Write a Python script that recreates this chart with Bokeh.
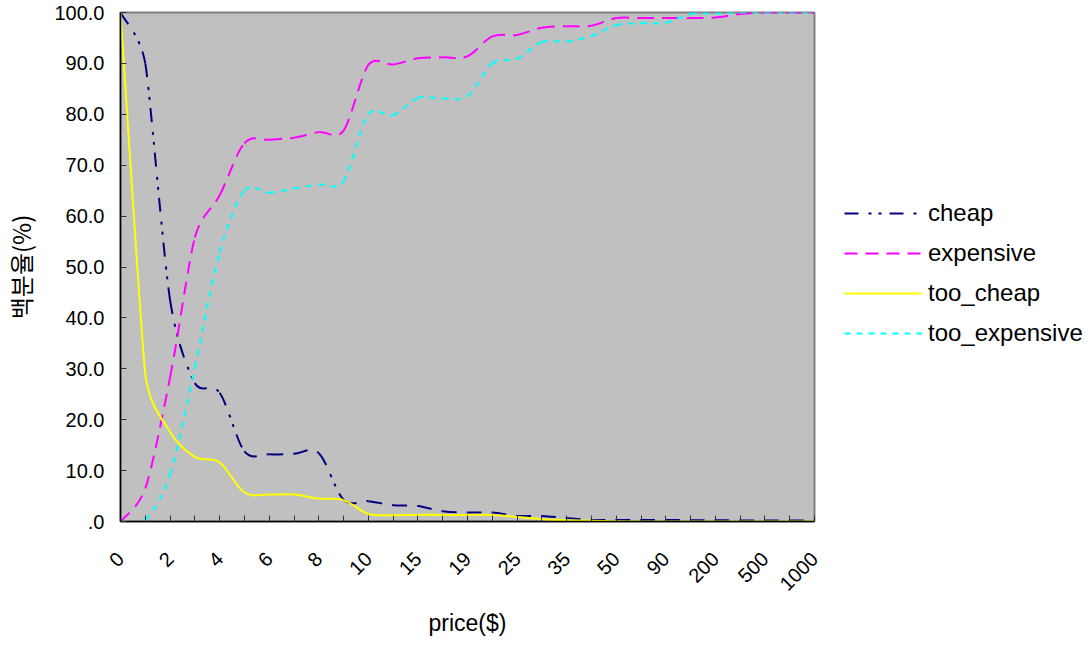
import math
from bokeh.plotting import figure
from bokeh.models import FixedTicker, Legend, LegendItem, ColumnDataSource, Range1d
from bokeh.embed import file_html
from bokeh.resources import INLINE

# categories (price points); only every other one is labelled on the axis
price_points = ["0", "1", "2", "3", "4", "5", "6", "7", "8", "9", "10", "12", "15", "17",
                "19", "20", "25", "30", "35", "40", "50", "70", "90", "100", "200", "300",
                "500", "700", "1000"]

cheap = [100, 90, 43.5, 27.2, 25.3, 13.8, 13.2, 13.3, 13.4, 4.3, 4.0, 3.2, 3.05, 2.0, 1.75,
         1.75, 1.1, 1.1, 0.65, 0.3, 0.3, 0.3, 0.3, 0.25, 0.25, 0.2, 0.2, 0.2, 0.2]
expensive = [0, 6.5, 28.3, 55.8, 64.1, 74.3, 75.0, 75.4, 76.5, 76.8, 89.7, 89.8, 91.0, 91.2,
             91.4, 95.3, 95.6, 97.0, 97.3, 97.4, 98.9, 98.9, 98.9, 98.9, 99.0, 99.7, 100, 100, 100]
too_cheap = [100, 29, 17.6, 12.7, 11.6, 5.7, 5.3, 5.3, 4.5, 4.2, 1.5, 1.25, 1.3, 1.3, 1.3,
             1.3, 0.9, 0.45, 0.25, 0.13, 0.05, 0, 0, 0, 0, 0, 0, 0, 0]
too_expensive = [0, 0.4, 9.3, 30.3, 52.8, 65.0, 64.6, 65.4, 66.2, 66.8, 80.0, 79.8, 83.2, 83.1,
                 83.6, 90.0, 90.9, 94.2, 94.3, 95.4, 97.5, 97.9, 98.0, 99.7, 99.8, 100, 100, 100, 100]

series_names = ["cheap", "expensive", "too_cheap", "too_expensive"]
series_colors = ["#000080", "#FF00FF", "#FFFF00", "#00FFFF"]
series_dashes = ["14 10 3 7 3 8", "13 8", "solid", "6 6"]

y_ticks = [0, 10, 20, 30, 40, 50, 60, 70, 80, 90, 100]
y_tick_labels = [".0", "10.0", "20.0", "30.0", "40.0", "50.0", "60.0", "70.0", "80.0", "90.0", "100.0"]

n = len(price_points)
xs = list(range(n))

FRAME_W, FRAME_H = 694, 509
SX = FRAME_W / (n - 1)   # px per category (used only for the smoothing shape)
SY = FRAME_H / 100.0     # px per percent


def smooth_source(vals):
    # Bezier segments between consecutive data points (spreadsheet-style smoothed line)
    pts = [(xs[i] * SX, vals[i] * SY) for i in range(n)]

    def dist(a, b):
        return math.hypot(a[0] - b[0], a[1] - b[1])

    fwd, bwd = [], []
    for i in range(n):
        pm = pts[max(i - 1, 0)]
        pp = pts[min(i + 1, n - 1)]
        pc = pts[i]
        tx, ty = pp[0] - pm[0], pp[1] - pm[1]
        d02 = math.hypot(tx, ty)
        f = 1.0 / 6.0
        if d02 > 0:
            if i > 0:
                f = min(f, dist(pm, pc) / (2 * d02))
            if i < n - 1:
                f = min(f, dist(pc, pp) / (2 * d02))
        fwd.append((pc[0] + f * tx, pc[1] + f * ty))
        bwd.append((pc[0] - f * tx, pc[1] - f * ty))
    d = {k: [] for k in ["x0", "y0", "x1", "y1", "cx0", "cy0", "cx1", "cy1"]}
    for i in range(n - 1):
        d["x0"].append(xs[i]); d["y0"].append(vals[i])
        d["x1"].append(xs[i + 1]); d["y1"].append(vals[i + 1])
        d["cx0"].append(fwd[i][0] / SX); d["cy0"].append(fwd[i][1] / SY)
        d["cx1"].append(bwd[i + 1][0] / SX); d["cy1"].append(bwd[i + 1][1] / SY)
    return ColumnDataSource(d)


p = figure(frame_width=FRAME_W, frame_height=FRAME_H,
           x_range=Range1d(0, n - 1), y_range=Range1d(0, 100),
           output_backend="svg", toolbar_location=None,
           min_border_left=110, min_border_top=12, min_border_right=272, min_border_bottom=108,
           background_fill_color="#C0C0C0", border_fill_color="white")
p.outline_line_color = "#808080"
p.outline_line_width = 2
p.xgrid.visible = False
p.ygrid.visible = False

FONT = "Liberation Sans"

ax = p.xaxis[0]
ax.ticker = FixedTicker(ticks=xs)
ax.major_label_overrides = {i: (price_points[i] if i % 2 == 0 else "") for i in xs}
ax.major_label_orientation = math.pi / 4
ax.major_tick_in = 6
ax.major_tick_out = 0
ax.minor_tick_in = 0
ax.minor_tick_out = 0
ax.major_label_standoff = 34
ax.major_label_text_font = FONT
ax.major_label_text_font_size = "20px"
ax.major_label_text_color = "black"
ax.axis_line_color = "black"
ax.axis_line_width = 1.5
ax.major_tick_line_color = "#333333"
ax.axis_label = "price($)"
ax.axis_label_text_font = FONT
ax.axis_label_text_font_size = "23px"
ax.axis_label_text_font_style = "normal"
ax.axis_label_text_color = "black"
ax.axis_label_standoff = 10

ay = p.yaxis[0]
ay.ticker = FixedTicker(ticks=y_ticks)
ay.major_label_overrides = dict(zip(y_ticks, y_tick_labels))
ay.major_tick_in = 6
ay.major_tick_out = 0
ay.minor_tick_in = 0
ay.minor_tick_out = 0
ay.major_label_standoff = 16
ay.major_label_text_font = FONT
ay.major_label_text_font_size = "20px"
ay.major_label_text_color = "black"
ay.axis_line_color = "black"
ay.axis_line_width = 1.5
ay.major_tick_line_color = "#333333"
ay.axis_label = "백분율(%)"
ay.axis_label_text_font = "Noto Sans CJK KR"
ay.axis_label_text_font_size = "24px"
ay.axis_label_text_font_style = "normal"
ay.axis_label_text_color = "black"
ay.axis_label_standoff = 13

items = []
for name, vals, color, dash in zip(series_names, [cheap, expensive, too_cheap, too_expensive],
                                   series_colors, series_dashes):
    r = p.bezier(x0="x0", y0="y0", x1="x1", y1="y1", cx0="cx0", cy0="cy0", cx1="cx1", cy1="cy1",
                 source=smooth_source(vals), line_color=color, line_width=2, line_dash=dash)
    items.append(LegendItem(label=name, renderers=[r]))

legend = Legend(items=items, location=(20, 163), orientation="vertical")
legend.label_text_font = FONT
legend.label_text_font_size = "24px"
legend.label_text_color = "black"
legend.glyph_width = 78
legend.glyph_height = 30
legend.label_height = 30
legend.spacing = 10
legend.padding = 10
legend.margin = 0
legend.label_standoff = 6
legend.border_line_alpha = 0
legend.background_fill_alpha = 0
p.add_layout(legend, "right")

open("out.html", "w").write(file_html(p, INLINE))
